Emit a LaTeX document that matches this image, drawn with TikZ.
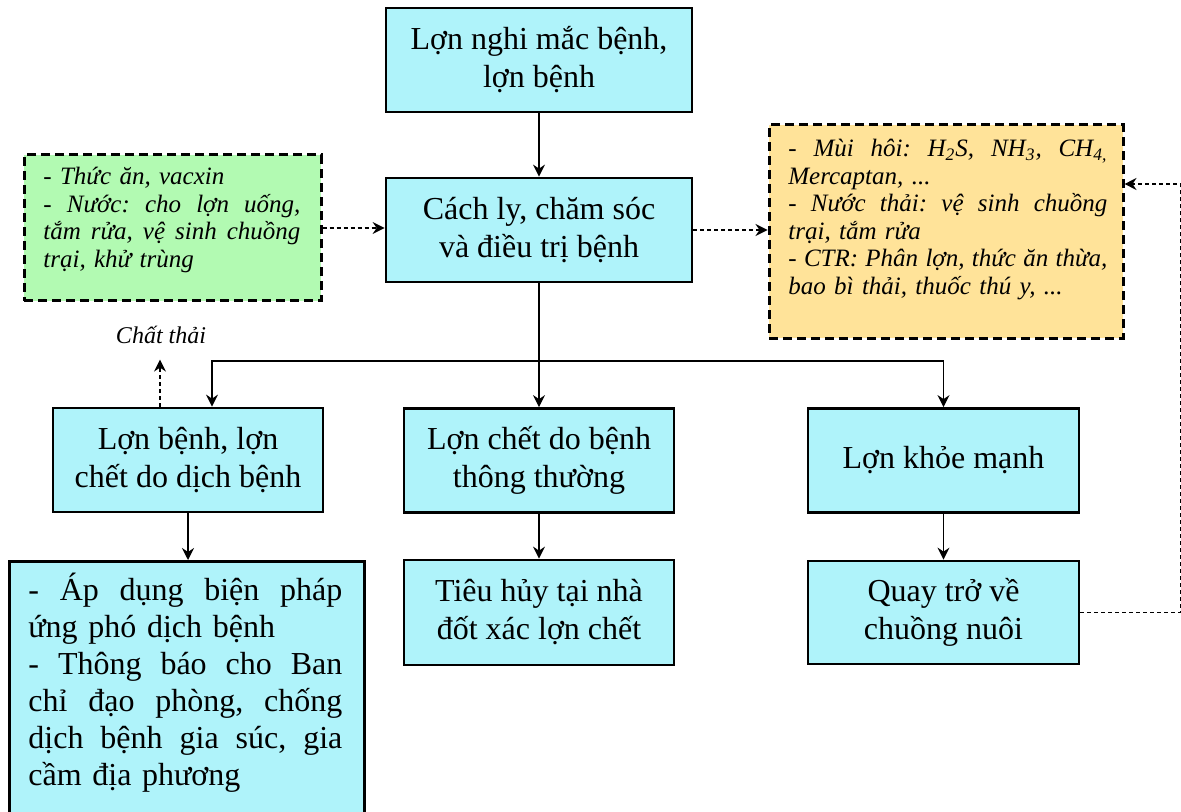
\documentclass[tikz,border=0pt]{standalone}
\usepackage{fontspec}
\setmainfont{Liberation Serif}
\usetikzlibrary{arrows.meta}
\frenchspacing

\definecolor{boxcyan}{RGB}{175,243,250}
\definecolor{boxgreen}{RGB}{178,250,178}
\definecolor{boxorange}{RGB}{255,227,153}

% one fully justified line of a given width (interword glue made stretchable again)
\newcommand\jline[2]{{\spaceskip=0pt\xspaceskip=0pt\makebox[#1][s]{#2}}}

\tikzset{
  procbox/.style={draw=black, line width=1.4pt, fill=boxcyan, inner sep=0pt,
    align=center, font=\fontsize{16}{19}\selectfont},
  dashbox/.style={draw=black, line width=1.5pt, dash pattern=on 4.5pt off 2.5pt, inner sep=0pt},
  inbox/.style={dashbox, fill=boxgreen},
  outbox/.style={dashbox, fill=boxorange},
  sidetext/.style={inner sep=0pt, anchor=base west, align=left,
    font=\fontsize{12.5}{13.75}\selectfont\itshape},
  listtext/.style={inner sep=0pt, anchor=base west, align=left,
    font=\fontsize{16}{18.5}\selectfont},
  flow/.style={line width=0.6pt, -{Stealth[length=6pt,width=6pt,inset=2pt]}},
  dflow/.style={flow, dash pattern=on 2pt off 1.5pt},
}

\begin{document}
\begin{tikzpicture}[x=0.5pt, y=-0.5pt]
  \useasboundingbox (0,0) rectangle (1181,812);
  \clip (0,0) rectangle (1181,812);

  % main column
  \node[procbox, minimum width=153pt, minimum height=52pt] (suspect) at (539,60)
    {Lợn nghi mắc bệnh,\\lợn bệnh};
  \node[procbox, minimum width=153pt, minimum height=52pt] (care) at (539,230)
    {Cách ly, chăm sóc\\và điều trị bệnh};

  % inputs
  \node[inbox, minimum width=148.5pt, minimum height=73pt] (inputs) at (172.5,228) {};
  \node[sidetext, text width=128.5pt] (inputstxt) at (43,185)
    {- Thức ăn, vacxin\\
     \jline{128.5pt}{- Nước: cho lợn uống,}\\
     \jline{128.5pt}{tắm rửa, vệ sinh chuồng}\\
     trại, khử trùng};

  % outputs
  \node[outbox, minimum width=177pt, minimum height=106.5pt] (wastes) at (946,231.5) {};
  \node[sidetext, text width=159.5pt] (wastestxt) at (788,157)
    {\jline{159.5pt}{- Mùi hôi: H\textsubscript{2}S, NH\textsubscript{3}, CH\textsubscript{4,}}\\
     Mercaptan, ...\\
     \jline{159.5pt}{- Nước thải: vệ sinh chuồng}\\
     trại, tắm rửa\\
     \jline{159.5pt}{- CTR: Phân lợn, thức ăn thừa,}\\
     bao bì thải, thuốc thú y, ...};

  % three outcomes
  \node[procbox, minimum width=135pt, minimum height=52pt] (epidemic) at (188,460)
    {Lợn bệnh, lợn\\chết do dịch bệnh};
  \node[procbox, minimum width=135pt, minimum height=52pt] (dead) at (539,460.5)
    {Lợn chết do bệnh\\thông thường};
  \node[procbox, minimum width=135.5pt, minimum height=52pt] (healthy) at (943.5,460.5)
    {Lợn khỏe mạnh};

  % follow-up actions
  \node[procbox, anchor=north west, minimum width=177.5pt, minimum height=145pt] (measures) at (8,560) {};
  \node[listtext, text width=157pt] (measurestxt) at (28,600)
    {\jline{157pt}{- Áp dụng biện pháp}\\
     ứng phó dịch bệnh\\
     \jline{157pt}{- Thông báo cho Ban}\\
     \jline{157pt}{chỉ đạo phòng, chống}\\
     \jline{157pt}{dịch bệnh gia súc, gia}\\
     cầm địa phương};
  \node[procbox, minimum width=135pt, minimum height=52.5pt] (burn) at (539,612.5)
    {Tiêu hủy tại nhà\\đốt xác lợn chết};
  \node[procbox, minimum width=135.5pt, minimum height=51.5pt] (back) at (943.5,612.5)
    {Quay trở về\\chuồng nuôi};

  \node[inner sep=0pt, font=\fontsize{12}{14}\selectfont\itshape] (wastelbl) at (161,335) {Chất thải};

  % connectors
  \coordinate (split) at (539,361);
  \draw[flow] (suspect) -- (care);
  \draw[dflow] (inputs.east) -- (inputs.east -| care.west);
  \draw[dflow] (care.east) -- (care.east -| wastes.west);
  \draw[flow] (care.south) -- (dead.north);
  \draw[flow] (split) -| ([xshift=12pt]epidemic.north);
  \draw[flow] (split) -| (healthy.north);
  \draw[dflow] ([xshift=-14pt]epidemic.north) -- ++(0,-47);
  \draw[flow] (epidemic.south) -- (epidemic.south |- measures.north);
  \draw[flow] (dead) -- (burn);
  \draw[flow] (healthy) -- (back);
  \draw[dflow] (back.east) -- ++(100,0) |- ([yshift=23.75pt]wastes.east);
\end{tikzpicture}
\end{document}
